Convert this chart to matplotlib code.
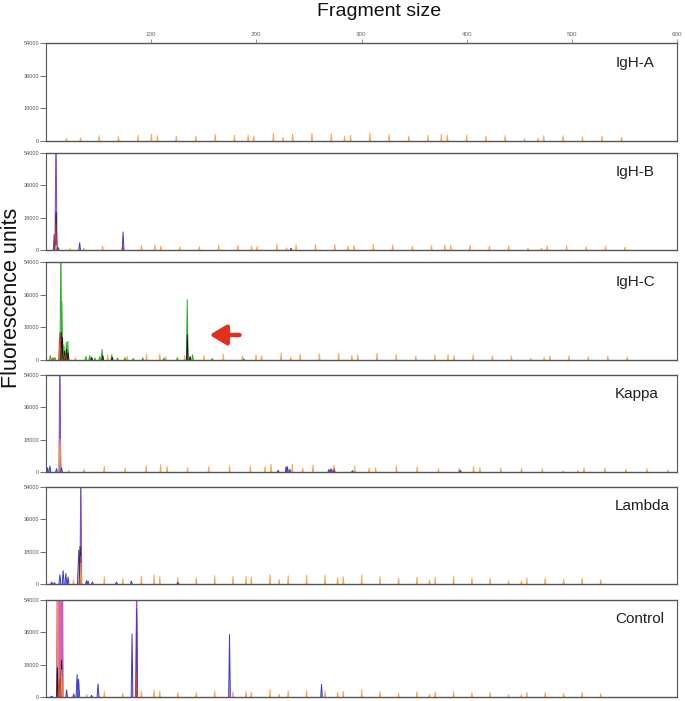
import matplotlib
matplotlib.use("Agg")
import matplotlib.pyplot as plt

plt.rcParams['font.family'] = ['Liberation Sans', 'DejaVu Sans']

# panel names and axis ticks
PANEL_NAMES = ["IgH-A", "IgH-B", "IgH-C", "Kappa", "Lambda", "Control"]
Y_TICKS = [0, 18000, 36000, 54000]
X_TICKS = [100, 200, 300, 400, 500, 600]

# size standard (orange) peaks, position on the fragment axis for each run
LADDER_POS_A = [19.5, 32.8, 50.5, 68.9, 87.5, 100.2, 105.9, 123.9, 142.5, 160.9, 179.2, 192.2,
                197.5, 216.2, 225.4, 234.5, 252.9, 271.3, 283.9, 289.6, 308.0, 326.3, 345.0, 363.3,
                375.9, 381.6, 400.0, 418.3, 436.6, 455.0, 467.9, 473.3, 491.7, 510.1, 528.7, 547.3]
LADDER_POS_B = [22.8, 36.1, 53.8, 72.2, 90.8, 103.5, 109.2, 127.2, 145.8, 164.2, 182.5, 195.5,
                200.8, 219.5, 228.7, 237.8, 256.2, 274.6, 287.2, 292.9, 311.3, 329.6, 348.3, 366.6,
                379.2, 384.9, 403.3, 421.6, 439.9, 458.3, 471.2, 476.6, 495.0, 513.4, 532.0, 550.6]
LADDER_POS_C = [28.0, 41.3, 58.8, 77.1, 95.6, 108.2, 113.9, 131.8, 150.3, 168.6, 186.8, 199.7,
                205.0, 223.6, 232.7, 241.7, 260.0, 278.3, 290.8, 296.5, 314.8, 333.0, 351.6, 369.8,
                382.3, 388.0, 406.2, 424.4, 442.6, 460.9, 473.7, 479.1, 497.4, 515.7, 534.2, 552.7]
LADDER_POS_K = [21.9, 36.3, 55.4, 75.3, 95.3, 109.0, 115.2, 134.6, 154.7, 174.5, 194.3, 208.3,
                214.0, 234.2, 244.1, 253.9, 273.8, 293.6, 307.2, 313.4, 333.2, 353.0, 373.2, 392.9,
                406.5, 412.6, 432.5, 452.2, 472.0, 491.8, 505.8, 511.6, 531.4, 551.3, 571.4, 591.4]
LADDER_POS_L = [26.1, 38.7, 55.5, 73.0, 90.7, 102.8, 108.2, 125.3, 142.9, 160.4, 177.8, 190.2,
                195.2, 213.0, 221.7, 230.3, 247.8, 265.3, 277.3, 282.7, 300.2, 317.6, 335.3, 352.7,
                364.7, 370.1, 387.6, 405.0, 422.3, 439.8, 452.1, 457.2, 474.7, 492.2, 509.8, 527.5]

# size standard peak heights (fluorescence units)
LADDER_H_A = [1500, 1850, 3100, 2400, 3300, 3900, 3100, 2800, 2900, 3900, 3300, 3300,
              2800, 4400, 2000, 3900, 4400, 4000, 2900, 3300, 4400, 3700, 2900, 3300,
              3800, 3300, 3500, 2900, 3100, 1400, 1600, 3100, 3100, 2300, 2900, 2200]
LADDER_H_B = [900, 1100, 2400, 1500, 2600, 3000, 2400, 1900, 2000, 3000, 2800, 2400,
              2200, 3500, 1300, 3200, 3300, 3200, 2400, 2700, 3400, 3000, 2400, 2600,
              3000, 2700, 2800, 2400, 2500, 1200, 1300, 2500, 2500, 1900, 2300, 1800]
LADDER_H_C = [1500, 1200, 3000, 2200, 3300, 3500, 2000, 2600, 2600, 3500, 2400, 3000,
              2600, 4100, 1800, 3500, 3500, 3900, 2600, 3000, 3900, 3200, 2400, 3000,
              3200, 2600, 3000, 2400, 2400, 1100, 1500, 2400, 2600, 1900, 2400, 1700]
LADDER_H_K = [1100, 1700, 3300, 2200, 3700, 4300, 3300, 2600, 3100, 3700, 3500, 3300,
              4600, 4600, 2200, 4000, 4000, 3500, 2400, 2600, 3700, 3100, 2000, 2400,
              3100, 2600, 2600, 2200, 2000, 700, 900, 2400, 2200, 1700, 2000, 1300]
LADDER_H_L = [2400, 1500, 4300, 3200, 4600, 5200, 4300, 3700, 3700, 4800, 4300, 4300,
              3900, 5600, 2600, 4800, 5200, 5200, 3700, 4300, 5200, 4300, 3300, 3900,
              2200, 3900, 4300, 3500, 3500, 1900, 2000, 3500, 3500, 2800, 3500, 2600]
LADDER_H_CTRL = [2400, 1500, 3200, 2200, 3500, 4100, 3300, 2600, 2600, 3500, 3200, 3200,
                 2800, 4300, 1700, 3500, 3900, 3700, 2800, 3300, 4200, 3300, 2500, 3000,
                 1700, 3000, 3300, 2700, 2700, 1400, 1500, 2700, 2700, 2100, 2700, 2000]

# sample peaks: (dye, position, height, half width), drawn in this order
PEAKS_A = []
PEAKS_B = [("green", 8.5, 1200, 0.8), ("blue", 7.8, 9000, 0.8),
           ("purple", 9.5, 70000, 1.0), ("black", 9.6, 21000, 0.8),
           ("red", 9.4, 15000, 0.8), ("orange", 9.6, 3000, 0.8), ("blue", 11.5, 1500, 0.8),
           ("blue", 32.0, 4100, 0.8), ("blue", 73.3, 10200, 0.8), ("red", 73.5, 1500, 0.6),
           ("blue", 233.0, 1000, 0.8)]
PEAKS_C = [("green", 4.2, 2600, 0.8), ("red", 6.5, 1200, 1.0), ("green", 8.4, 1500, 0.8),
           ("green", 14.1, 70000, 0.8), ("green", 15.1, 32500, 0.8),
           ("black", 14.4, 15500, 0.8), ("black", 15.7, 12500, 0.7), ("red", 13.2, 15000, 1.2),
           ("green", 17.0, 8500, 0.8), ("green", 19.4, 10000, 0.8), ("green", 20.8, 10400, 0.7),
           ("black", 17.5, 5000, 0.7), ("black", 19.5, 6000, 0.7), ("black", 21.1, 4000, 0.7),
           ("red", 18.5, 3000, 1.5),
           ("green", 37.9, 2000, 0.8), ("green", 41.7, 2500, 0.8), ("black", 43.5, 1500, 0.7),
           ("green", 46.5, 1200, 0.7), ("green", 51.1, 2000, 0.8), ("green", 53.3, 5900, 0.8),
           ("black", 54.0, 2500, 0.7), ("green", 62.5, 3100, 0.8), ("black", 63.0, 1500, 0.7),
           ("green", 68.0, 1200, 0.7), ("green", 75.0, 1400, 0.7), ("green", 83.0, 1000, 0.7),
           ("green", 92.0, 1300, 0.7), ("green", 112.0, 1200, 0.7), ("green", 125.0, 1500, 0.7),
           ("green", 134.3, 33500, 0.8), ("black", 134.4, 14000, 0.7),
           ("green", 139.4, 3000, 0.8), ("black", 137.0, 2000, 0.7), ("green", 158.0, 900, 0.7),
           ("green", 188.0, 800, 0.7)]
PEAKS_K = [("blue", 1.5, 2500, 0.7), ("blue", 3.7, 3500, 0.8), ("blue", 10.0, 2000, 0.8),
           ("purple", 13.2, 70000, 0.9), ("orange", 13.4, 18500, 1.0), ("blue", 14.8, 2500, 0.8),
           ("blue", 220.7, 1000, 0.8), ("blue", 228.3, 3100, 0.8), ("blue", 229.6, 3000, 0.8),
           ("blue", 232.0, 1500, 0.8), ("blue", 269.0, 1500, 0.8), ("blue", 271.0, 2000, 0.8),
           ("blue", 273.0, 1200, 0.8), ("red", 274.2, 2000, 0.7), ("blue", 291.5, 800, 0.8),
           ("blue", 394.0, 1000, 0.8)]
PEAKS_L = [("blue", 5.3, 1200, 0.8), ("blue", 8.0, 800, 0.8), ("blue", 13.2, 5200, 0.9),
           ("blue", 16.3, 7600, 0.9), ("blue", 18.9, 6000, 0.9), ("blue", 21.0, 4000, 0.8),
           ("blue", 31.2, 19000, 1.3), ("purple", 33.1, 70000, 0.8), ("black", 32.4, 21000, 0.7),
           ("red", 32.8, 15400, 0.7), ("orange", 33.2, 11700, 0.7),
           ("blue", 38.5, 2000, 0.8), ("blue", 40.0, 1800, 0.8), ("blue", 44.2, 1200, 0.8),
           ("blue", 67.0, 1200, 0.8), ("blue", 81.2, 1700, 0.8), ("blue", 125.4, 1000, 0.8)]
PEAKS_CTRL = [("blue", 5.3, 500, 0.8), ("magenta", 13.2, 400000, 3.1),
              ("orange", 11.2, 70000, 0.4), ("black", 10.8, 16400, 0.7), ("black", 14.8, 20500, 0.7),
              ("red", 13.0, 10000, 1.0), ("orange", 15.0, 15300, 0.7),
              ("blue", 19.6, 4100, 0.8), ("blue", 26.5, 1500, 0.8), ("blue", 29.6, 12600, 1.0),
              ("blue", 31.0, 10000, 1.0), ("blue", 43.3, 1000, 0.8), ("blue", 49.5, 7400, 0.9),
              ("blue", 81.8, 35300, 0.8), ("magenta", 86.2, 70000, 0.9), ("blue", 86.2, 49300, 0.8),
              ("red", 86.3, 13400, 0.7), ("blue", 174.5, 35000, 0.8), ("blue", 262.0, 7100, 0.8)]

LADDER_POS = [LADDER_POS_A, LADDER_POS_B, LADDER_POS_C, LADDER_POS_K, LADDER_POS_L, LADDER_POS_L]
LADDER_H = [LADDER_H_A, LADDER_H_B, LADDER_H_C, LADDER_H_K, LADDER_H_L, LADDER_H_CTRL]
PEAKS = [PEAKS_A, PEAKS_B, PEAKS_C, PEAKS_K, PEAKS_L, PEAKS_CTRL]

DYE_COLORS = {"blue": "#3C3CC8", "purple": "#7A48D4", "magenta": "#C63CB0",
              "black": "#1A1A1A", "red": "#D83A20", "green": "#2EB02E", "orange": "#FF9630"}

# panel tops / bottoms in pixels of the 685x701 figure
PANEL_TOP = [43, 153, 262, 375, 487, 600]
PANEL_BOT = [141, 250, 360, 472, 584, 697]
W, H = 685.0, 701.0


def draw_peak(ax, x, h, hw, color, alpha=0.45, lw=0.7):
    xs = [x - hw, x, x + hw]
    ys = [0, h, 0]
    ax.fill(xs, ys, facecolor=color, alpha=alpha, lw=0)
    ax.plot(xs, ys, color=color, lw=lw, solid_joinstyle="miter")


fig = plt.figure(figsize=(6.85, 7.01), dpi=100)

for i, name in enumerate(PANEL_NAMES):
    bottom = 1 - PANEL_BOT[i] / H
    height = (PANEL_BOT[i] - PANEL_TOP[i]) / H
    ax = fig.add_axes([46 / W, bottom, 631 / W, height])
    ax.set_xlim(0, 600)
    ax.set_ylim(0, 54000)

    # size standard: thin pale orange spikes
    for pos, h in zip(LADDER_POS[i], LADDER_H[i]):
        draw_peak(ax, pos, h, 0.55, "#FFA850", alpha=0.5, lw=0.7)
    for dye, pos, h, hw in PEAKS[i]:
        a = 0.8 if dye in ("purple", "magenta") else 0.35
        draw_peak(ax, pos, h, hw, DYE_COLORS[dye], alpha=a)

    ax.text(0.902, 0.8, name, transform=ax.transAxes, fontsize=11, color="#222222",
            ha="left", va="center")

    ax.set_yticks(Y_TICKS)
    ax.set_yticklabels([str(v) for v in Y_TICKS])
    ax.tick_params(axis="y", labelsize=4, colors="#555555", length=4, width=0.6, pad=1)
    if i == 0:
        ax.xaxis.tick_top()
        ax.set_xticks(X_TICKS)
        ax.tick_params(axis="x", labelsize=4.5, colors="#666666", length=3, width=0.5, pad=1)
    else:
        ax.set_xticks([])
    for side, sp in ax.spines.items():
        sp.set_color("#555555")
        sp.set_linewidth(1.0 if side in ("top", "bottom") else 0.8)

    if i == 2:
        # red arrow pointing at the clonal peak
        ax.annotate("", xy=(155.5, 13800), xytext=(184, 13800),
                    arrowprops=dict(arrowstyle="-|>,head_length=0.5,head_width=0.3",
                                    color="#E2301E", lw=3.2, mutation_scale=20,
                                    shrinkA=0, shrinkB=0))

fig.text(379 / W, 1 - 11 / H, "Fragment size", fontsize=14, ha="center", va="center",
         color="#111111")
fig.text(12 / W, 1 - 298 / H, "Fluorescence units", fontsize=15.5, rotation=90,
         ha="center", va="center", color="#111111")

fig.savefig("out.png", dpi=100)
